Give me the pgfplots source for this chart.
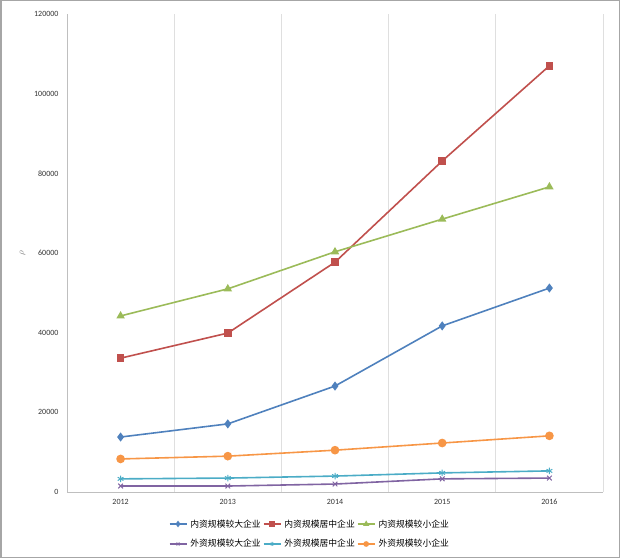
\documentclass[border=0pt]{standalone}
\usepackage{pgfplots}
\pgfplotsset{compat=1.18}
\usepackage{fontspec}
\setmainfont{Carlito}
\newfontfamily\cjk{Noto Sans CJK SC}
\definecolor{c1}{HTML}{4F81BD}
\definecolor{c2}{HTML}{C0504D}
\definecolor{c3}{HTML}{9BBB59}
\definecolor{c4}{HTML}{8064A2}
\definecolor{c5}{HTML}{4BACC6}
\definecolor{c6}{HTML}{F79646}
\begin{document}
\begin{tikzpicture}
\draw[gray!70, line width=1.5pt] (0.75pt,0.75pt) rectangle (619.25pt,557.25pt);
\begin{axis}[
  at={(67pt,66pt)}, anchor=south west,
  scale only axis, width=536pt, height=478pt,
  xmin=-0.5, xmax=4.5, ymin=0, ymax=120000,
  xtick={0,1,2,3,4}, xticklabels={2012,2013,2014,2015,2016},
  ytick={0,20000,...,120000},
  scaled y ticks=false,
  /pgf/number format/fixed,
  /pgf/number format/1000 sep={},
  /pgf/number format/assume math mode=true,
  tick label style={font=\fontsize{8}{9}\selectfont, text=black!80},
  major tick length=0pt, minor tick length=0pt,
  minor xtick={0.5,1.5,2.5,3.5,4.5},
  xminorgrids, minor grid style={gray!25, line width=0.8pt},
  axis x line*=bottom, axis y line*=left,
  axis line style={gray!50, line width=0.8pt, -},
  xticklabel style={yshift=-4pt},
  yticklabel style={xshift=-5pt},
  ylabel={\textcolor{gray}{$\rho$}}, ylabel style={font=\small, anchor=center, at={(axis description cs:-0.083,0.5)}},
  legend columns=3,
  legend style={at={(axis description cs:0.453,-0.053)}, anchor=north, draw=none,
    font=\cjk\fontsize{8.8}{10}\selectfont, row sep=7pt, column sep=1pt,
    inner sep=0pt,
    /tikz/every even column/.append style={column sep=0pt}},
  legend image post style={mark size=2pt},
  legend cell align=left,
  every axis plot/.append style={line width=1.6pt},
]
\addplot[c1, mark=diamond*, mark size=3.3pt] coordinates {(0,13800) (1,17100) (2,26600) (3,41700) (4,51200)};
\addlegendentry{内资规模较大企业}
\addplot[c2, mark=square*, mark size=3pt] coordinates {(0,33600) (1,39900) (2,57700) (3,83100) (4,107000)};
\addlegendentry{内资规模居中企业}
\addplot[c3, mark=triangle*, mark size=3.3pt] coordinates {(0,44200) (1,51000) (2,60300) (3,68500) (4,76600)};
\addlegendentry{内资规模较小企业}
\addplot[c4, mark=x, mark size=3.3pt, mark options={line width=1pt}] coordinates {(0,1500) (1,1500) (2,2000) (3,3300) (4,3500)};
\addlegendentry{外资规模较大企业}
\addplot[c5, mark=asterisk, mark size=3.3pt, mark options={line width=1pt}] coordinates {(0,3300) (1,3500) (2,4000) (3,4800) (4,5300)};
\addlegendentry{外资规模居中企业}
\addplot[c6, mark=*, mark size=3.5pt] coordinates {(0,8300) (1,9000) (2,10500) (3,12300) (4,14100)};
\addlegendentry{外资规模较小企业}
\end{axis}
\end{tikzpicture}
\end{document}
